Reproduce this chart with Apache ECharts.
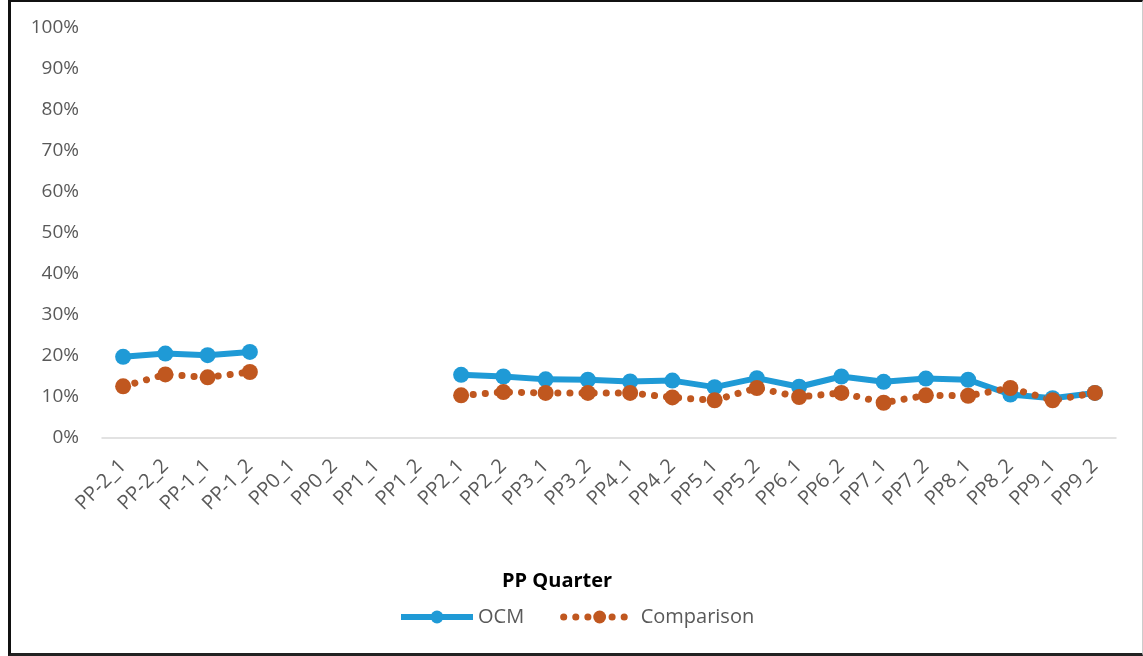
<!DOCTYPE html>
<html>
<head>
<meta charset="utf-8">
<script src="https://cdn.jsdelivr.net/npm/echarts@6/dist/echarts.min.js"></script>
<style>
html,body{margin:0;padding:0;background:#fff;}
#frame{position:absolute;left:8px;top:0;width:1131px;height:651px;border-left:3px solid #111;border-top:2px solid #111;border-bottom:3px solid #222;border-right:1px solid #ccc;box-sizing:content-box;}
#chart{position:absolute;left:0;top:0;width:1143px;height:656px;}
</style>
</head>
<body>
<div id="frame"></div>
<div id="chart"></div>
<script>
const categories = ["PP-2_1","PP-2_2","PP-1_1","PP-1_2","PP0_1","PP0_2","PP1_1","PP1_2","PP2_1","PP2_2","PP3_1","PP3_2","PP4_1","PP4_2","PP5_1","PP5_2","PP6_1","PP6_2","PP7_1","PP7_2","PP8_1","PP8_2","PP9_1","PP9_2"];
const ocm = [0.198,0.206,0.202,0.210,null,null,null,null,0.154,0.150,0.143,0.142,0.138,0.140,0.124,0.146,0.125,0.150,0.137,0.145,0.142,0.106,0.097,0.110];
const comparison = [0.126,0.155,0.148,0.161,null,null,null,null,0.104,0.112,0.110,0.110,0.110,0.099,0.092,0.122,0.100,0.110,0.086,0.104,0.103,0.122,0.092,0.110];
const yTicks = [0,0.1,0.2,0.3,0.4,0.5,0.6,0.7,0.8,0.9,1.0];

const chart = echarts.init(document.getElementById('chart'), null, {renderer:'canvas'});
const font = '"Open Sans", "Noto Sans", sans-serif';
const blue = '#1f9ad6', brown = '#c0571f';
const dotted = [0.1, 12];
chart.setOption({
  animation:false,
  backgroundColor:'transparent',
  grid:{left:102, top:28, width:1014, height:410, containLabel:false},
  title:{text:'PP Quarter', left:497, top:566, textStyle:{fontFamily:font, fontSize:20, fontWeight:'bold', color:'#000'}},
  legend:{
    left:393, top:602, itemWidth:72, itemHeight:16, itemGap:36,
    textStyle:{fontFamily:font, fontSize:20, color:'#595959'},
    data:[
      {name:'OCM', lineStyle:{width:6, color:blue}},
      {name:'Comparison', lineStyle:{width:7, color:brown, type:dotted, cap:'round'}}
    ]
  },
  xAxis:{
    type:'category', data:categories, boundaryGap:true,
    axisLine:{lineStyle:{color:'#d9d9d9', width:1.5}},
    axisTick:{alignWithLabel:true, length:6, lineStyle:{color:'#d9d9d9'}},
    axisLabel:{rotate:45, interval:0, fontFamily:font, fontSize:20, color:'#595959', margin:25},
    splitLine:{show:false}
  },
  yAxis:{
    type:'value', min:yTicks[0], max:yTicks[yTicks.length-1], interval:0.1,
    axisLine:{show:false}, axisTick:{show:false}, splitLine:{show:false},
    axisLabel:{fontFamily:font, fontSize:19, color:'#595959', margin:23,
      formatter:v=>Math.round(v*100)+'%'}
  },
  series:[
    {name:'OCM', type:'line', data:ocm, connectNulls:false,
     symbol:'circle', symbolSize:16, color:blue,
     lineStyle:{width:6, color:blue}, itemStyle:{color:blue}},
    {name:'Comparison', type:'line', data:comparison, connectNulls:false,
     symbol:'circle', symbolSize:16, color:brown,
     lineStyle:{width:7, color:brown, type:dotted, cap:'round'}, itemStyle:{color:brown}}
  ]
});
</script>
</body>
</html>
